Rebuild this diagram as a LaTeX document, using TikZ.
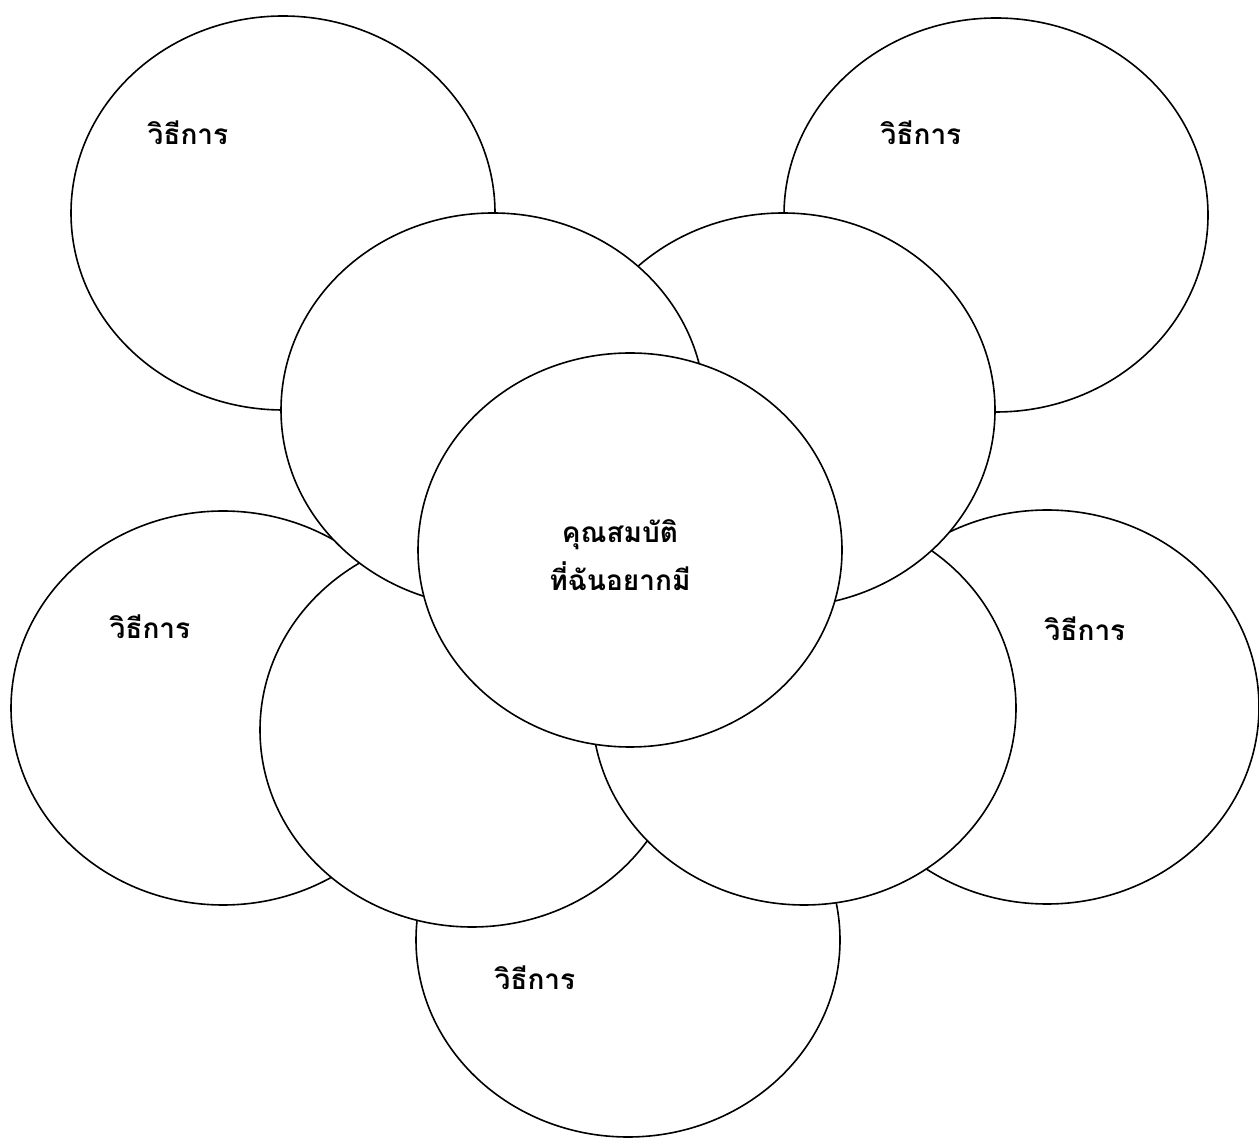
\documentclass[tikz,border=0pt]{standalone}
\usepackage{fontspec}
\newfontfamily\thaifont[Script=Thai]{Loma}
\usetikzlibrary{shapes.geometric,positioning}

\tikzset{
  bubble/.style={ellipse,draw=black,fill=white,line width=0.8pt,
    minimum width=212pt,minimum height=197pt,inner sep=0pt},
  waylabel/.style={font=\thaifont\bfseries\fontsize{14}{24}\selectfont,inner sep=0pt},
  goallabel/.style={font=\thaifont\bfseries\fontsize{14}{24}\selectfont,align=center,inner sep=0pt}
}

\begin{document}
\begin{tikzpicture}[x=0.5pt,y=-0.5pt]
\useasboundingbox (0,0) rectangle (1259,1138);
% outer ring
\node[bubble] (outTL) at (283,213) {};
\node[bubble] (outTR) at (996,215) {};
\node[bubble] (outL) at (223,708) {};
\node[bubble] (outR) at (1047,707) {};
\node[bubble] (outB) at (628,940) {};
% inner ring
\node[bubble] (inBL) at (472,730) {};
\node[bubble] (inBR) at (804,708) {};
\node[bubble] (inTR) at (783,410) {};
\node[bubble] (inTL) at (493,410) {};
% middle
\node[bubble] (goal) at (630,550) {};
% labels
\node[waylabel] (wayTL) at (188,133) {วิธีการ};
\node[waylabel] (wayTR) at (921,133) {วิธีการ};
\node[waylabel] (wayL) at (150,627) {วิธีการ};
\node[waylabel] (wayR) at (1085,629) {วิธีการ};
\node[waylabel] (wayB) at (535,978) {วิธีการ};
\node[goallabel] (goaltext) at (620,555) {คุณสมบัติ\\ที่ฉันอยากมี};
\end{tikzpicture}
\end{document}
